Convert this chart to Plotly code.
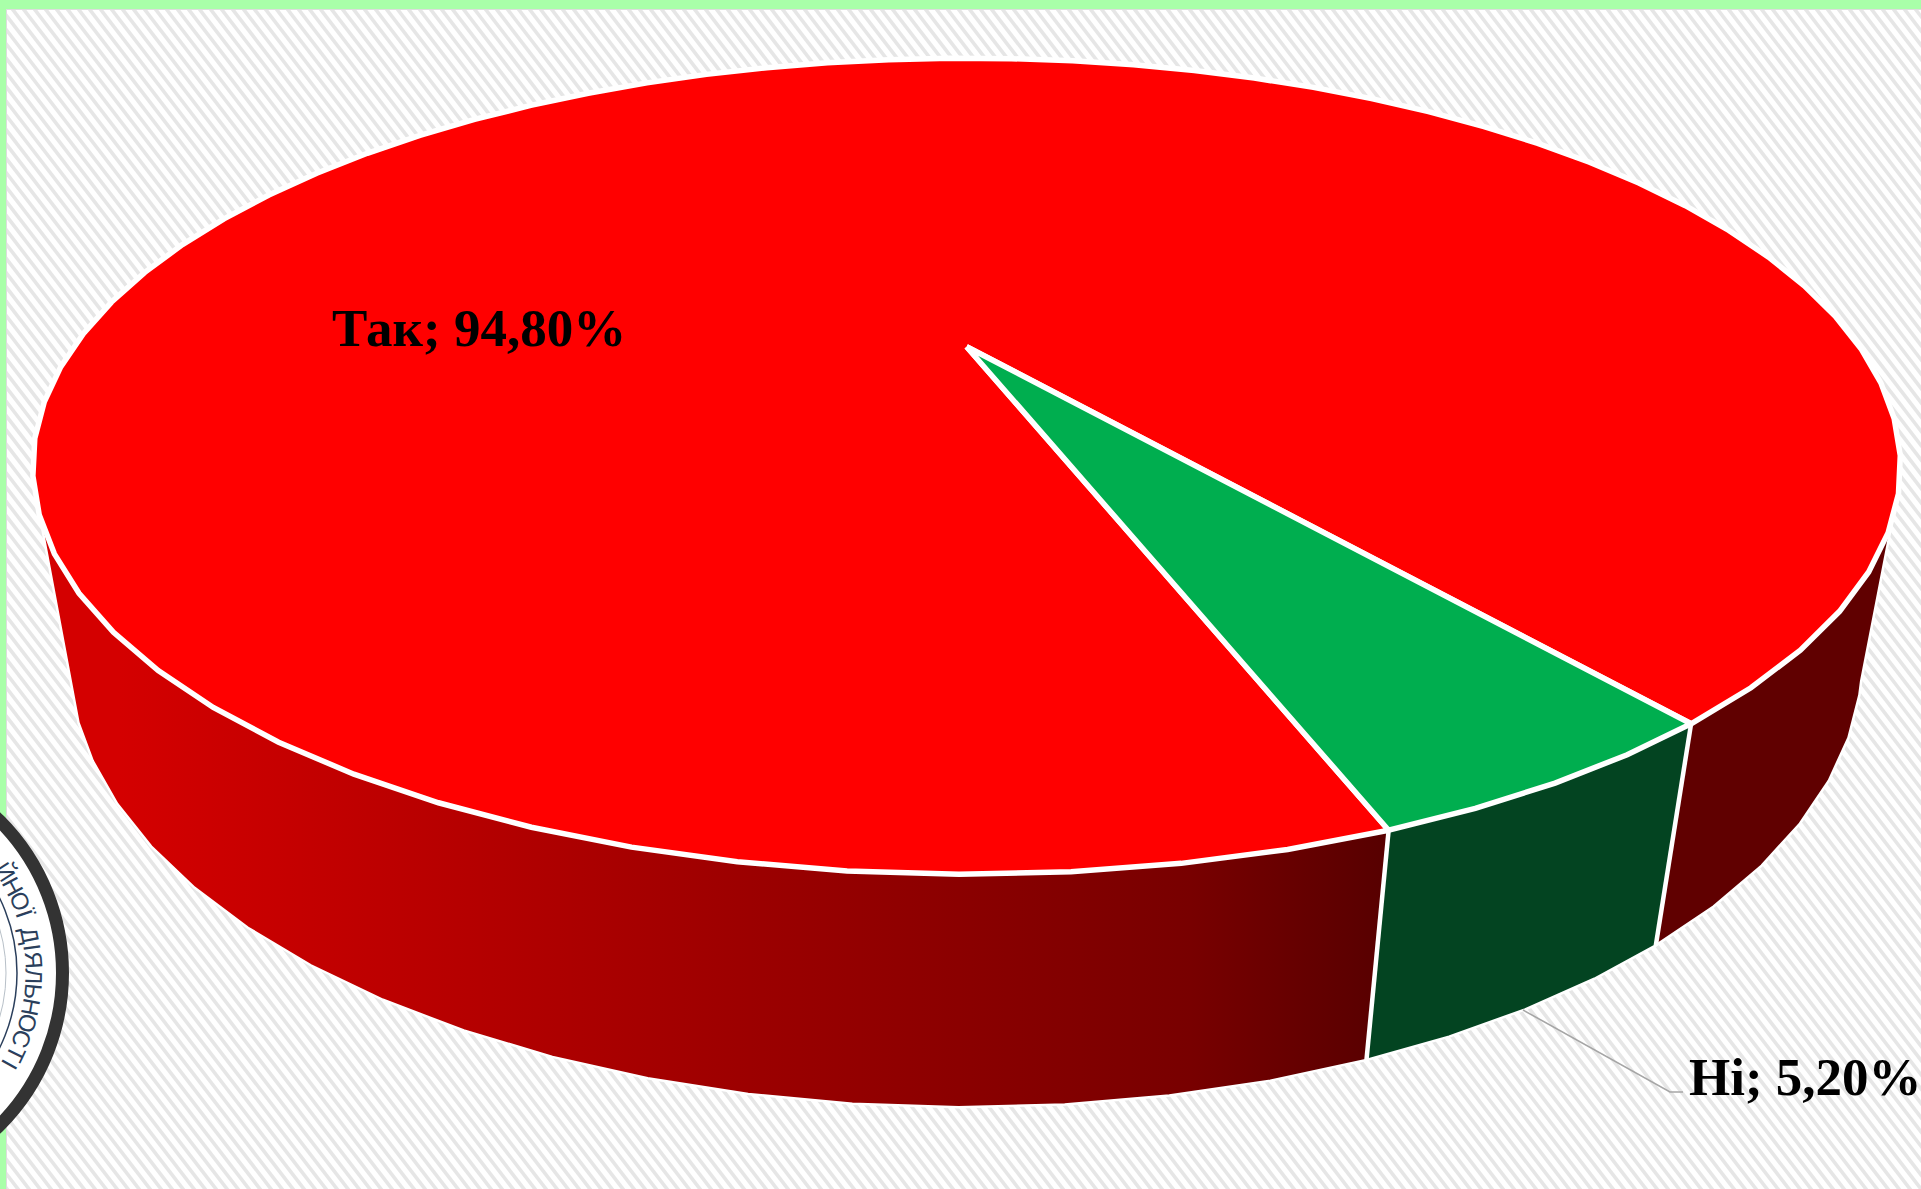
import numpy as np
import plotly.graph_objects as go

labels = ["Так", "Ні"]
values = [94.8, 5.2]
label_texts = ["Так; 94,80%", "Ні; 5,20%"]
top_colors = ["#ff0000", "#00ae4f"]
seal_text = "ЙНОЇ ДІЯЛЬНОСТІ"

W, H = 1921, 1189
CX, CY, A, B, K = 966.6, 346.7, 893.0, 373.0, 0.293
VX, VY, DEPTH = 949.0, 5386.0, 0.0385
START = 51.25
FACET = 5.094


def project(theta_deg, z=0.0):
    t = np.radians(np.asarray(theta_deg, dtype=float))
    x, y = np.cos(t), np.sin(t)
    w = 1 - K * y
    m = DEPTH * z
    px = (CX * w + A * x + VX * m) / (w + m)
    py = (CY * w + B * y + VY * m) / (w + m)
    return px, py


def arc(a0, a1):
    # even facets across a whole slice
    n = max(1, int(round(abs(a1 - a0) / FACET)))
    return np.linspace(a0, a1, n + 1)


def walk(anchor, limit):
    # facets of the big slice, walked from one of its ends to a wall's visible limit
    k = int(abs(limit - anchor) // FACET)
    s = 1 if limit > anchor else -1
    return np.r_[anchor + s * FACET * np.arange(k + 1), limit]


sweep = [v / sum(values) * 360 for v in values]
green0, green1 = START, START + sweep[1]
red0, red1 = green1, green1 + sweep[0]

fig = go.Figure()

# background hatching
SLOPE = 1.3
hx, hy = [], []
for c in np.arange(-H - 20, W + 20, 11.0):
    hx += [c, c + (H + 40) / SLOPE, None]
    hy += [-20, H + 20, None]
fig.add_trace(go.Scatter(x=hx, y=hy, mode="lines", line=dict(color="#e6e6e6", width=3.6),
                         hoverinfo="skip", showlegend=False))


def side(th, **kw):
    x0, y0 = project(th, 0)
    x1, y1 = project(th[::-1], 1)
    fig.add_trace(go.Scatter(
        x=np.r_[x0, x1, x0[0]], y=np.r_[y0, y1, y0[0]], mode="lines", fill="toself",
        line=dict(color="white", width=2.5), hoverinfo="skip", showlegend=False, **kw))


# side walls
side(walk(green0, 19.0), fillcolor="#600000")
side(walk(green1, 156.0), fillgradient=dict(type="horizontal", start=120, stop=1380,
                                            colorscale=[[0, "#d40000"], [0.5, "#9c0000"], [0.85, "#780000"], [1, "#580000"]]))
side(arc(green0, green1), fillcolor="#034421")

# white seams between neighbouring walls
for a in (green0, green1):
    sx0, sy0 = project(a, 0)
    sx1, sy1 = project(a, 1)
    fig.add_trace(go.Scatter(x=[sx0, sx1], y=[sy0, sy1], mode="lines", line=dict(color="white", width=4.5),
                             hoverinfo="skip", showlegend=False))


def wedge(a0, a1, color, name):
    x, y = project(arc(a0, a1))
    fig.add_trace(go.Scatter(
        x=np.r_[CX, x, CX], y=np.r_[CY, y, CY], mode="lines", fill="toself", fillcolor=color,
        line=dict(color="white", width=5.5), name=name, showlegend=False))


wedge(red0, red1, top_colors[0], labels[0])
wedge(green0, green1, top_colors[1], labels[1])

# leader line
fig.add_trace(go.Scatter(x=[1523, 1670, 1683], y=[1010, 1092, 1092], mode="lines",
                         line=dict(color="#a6a6a6", width=1.6), hoverinfo="skip", showlegend=False))

GREEN = "#a9ffa9"
SX, SY, SR = -153.0, 973.0, 222.0


def circle(r, **kw):
    return dict(type="circle", xref="x", yref="y", x0=SX - r, x1=SX + r, y0=SY - r, y1=SY + r, **kw)


shapes = [
    dict(type="rect", xref="x", yref="y", x0=6, x1=W + 5, y0=9, y1=H + 5, fillcolor="rgba(0,0,0,0)",
         line=dict(color="#dddddd", width=2)),
    dict(type="rect", xref="x", yref="y", x0=0, x1=W, y0=0, y1=9, fillcolor=GREEN, line_width=0),
    dict(type="rect", xref="x", yref="y", x0=0, x1=6, y0=0, y1=H, fillcolor=GREEN, line_width=0),
    circle(SR - 6.5, fillcolor="white", line=dict(color="#333333", width=13)),
    circle(170, fillcolor="rgba(0,0,0,0)", line=dict(color="#2b3f5c", width=1.5)),
    circle(159, fillcolor="rgba(0,0,0,0)", line=dict(color="#b8c0c8", width=1)),
]

annotations = [
    dict(x=330, y=328, text=f"<b>{label_texts[0]}</b>", showarrow=False, xanchor="left", yanchor="middle",
         font=dict(family="Liberation Serif", size=53, color="#000000")),
    dict(x=1687, y=1077, text=f"<b>{label_texts[1]}</b>", showarrow=False, xanchor="left", yanchor="middle",
         font=dict(family="Liberation Serif", size=53, color="#000000")),
]

# seal lettering, one rotated glyph at a time
wide = {"І": 0.5, "Ї": 0.5, " ": 0.6, "Ь": 0.9, "С": 0.95, "Л": 1.0}
w = [wide.get(ch, 1.05) for ch in seal_text]
pos = np.cumsum(w) - np.array(w) / 2
end_phi, step = 29.5, 4.95
phis = end_phi - (pos[-1] - pos) * step
for ch, phi in zip(seal_text, phis):
    if ch == " ":
        continue
    p = np.radians(phi)
    annotations.append(dict(x=SX + 187 * np.cos(p), y=SY + 187 * np.sin(p), text=ch, textangle=90 + phi,
                            showarrow=False,
                            font=dict(family="Liberation Sans Narrow, Liberation Sans", size=24, color="#2b3f5c")))

fig.update_layout(
    width=W, height=H, margin=dict(l=0, r=0, t=0, b=0), paper_bgcolor="white", plot_bgcolor="white",
    showlegend=False, shapes=shapes, annotations=annotations,
    xaxis=dict(range=[0, W], visible=False, fixedrange=True),
    yaxis=dict(range=[H, 0], visible=False, fixedrange=True),
)
fig.write_html("out.html", config={"displayModeBar": False},
               post_script="document.body.style.margin='0';document.body.style.overflow='hidden';")
